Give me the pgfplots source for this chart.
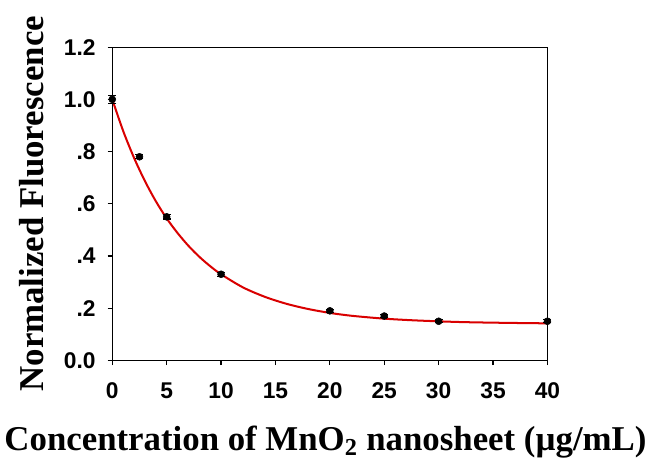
\documentclass[border=0pt]{standalone}
\usepackage{pgfplots}
\pgfplotsset{compat=1.18}
\usepackage{fontspec}
\setmainfont{Liberation Serif}
\newfontfamily\arialfont{Liberation Sans}
\begin{document}
\begin{tikzpicture}
\begin{axis}[
  scale only axis,
  width=325pt, height=234pt,
  xmin=0, xmax=40, ymin=0, ymax=1.2,
  xtick={0,5,...,40},
  ytick={0,0.2,0.4,0.6,0.8,1.0,1.2},
  yticklabels={0.0,.2,.4,.6,.8,1.0,1.2},
  tick align=outside,
  tick pos=left,
  major tick length=3.5pt,
  axis line style={line width=0.9pt},
  tick style={line width=0.9pt, black},
  /pgf/number format/assume math mode=true,
  tick label style={font=\arialfont\bfseries\fontsize{17}{20}\selectfont},
  xticklabel style={yshift=-9.5pt},
  yticklabel style={xshift=-5.5pt},
  xlabel={Concentration of MnO\textsubscript{2} nanosheet (µg/mL)},
  ylabel={Normalized Fluorescence},
  label style={font=\bfseries\fontsize{26}{30}\selectfont},
  xlabel style={at={(axis description cs:0.49,-0.288)}, anchor=base},
  ylabel style={at={(axis description cs:-0.158,0.5)}, anchor=base, inner xsep=12pt},
  clip=false,
]
\addplot[red!85!black, line width=1.5pt, smooth] coordinates {
(0,1.0) (1,0.879) (2,0.776) (3,0.687) (4,0.610) (5,0.544) (6,0.488) (7,0.439)
(8,0.397) (9,0.361) (10,0.330) (12,0.280) (14,0.244) (16,0.217) (18,0.197)
(20,0.182) (22,0.171) (25,0.160) (28,0.153) (32,0.147) (36,0.144) (40,0.142)};
\addplot[only marks, mark=*, mark size=2.6pt, black,
  error bars/.cd, y dir=both, y explicit, error bar style={line width=0.9pt},
  error mark options={rotate=90, mark size=3pt, line width=0.9pt}]
  coordinates {
  (0,1.0) +- (0,0.015)
  (2.5,0.78) +- (0,0.008)
  (5,0.55) +- (0,0.008)
  (10,0.33) +- (0,0.008)
  (20,0.19) +- (0,0.006)
  (25,0.17) +- (0,0.006)
  (30,0.15) +- (0,0.006)
  (40,0.15) +- (0,0.006)
  };
\end{axis}
\end{tikzpicture}
\end{document}
